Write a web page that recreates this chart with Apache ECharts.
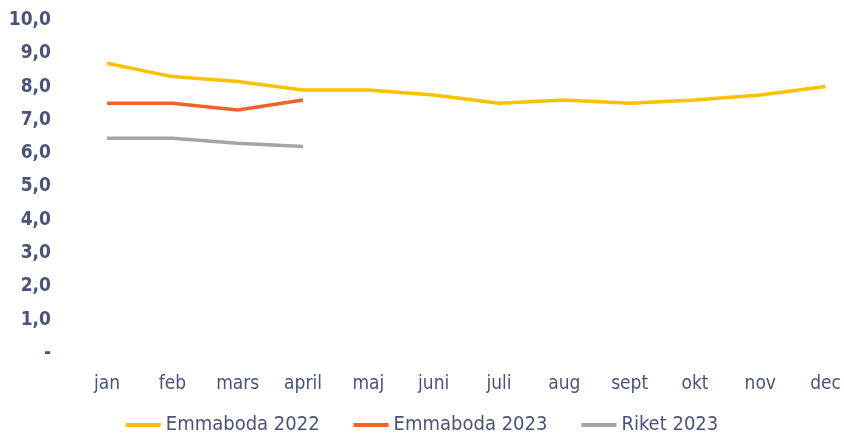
<!DOCTYPE html>
<html>
<head>
<meta charset="utf-8">
<script src="https://cdn.jsdelivr.net/npm/echarts@6/dist/echarts.min.js"></script>
<style>
  html, body { margin: 0; padding: 0; background: #fff; }
  #chart { width: 844px; height: 441px; }
</style>
</head>
<body>
<div id="chart"></div>
<script>
// data
let months = ['jan', 'feb', 'mars', 'april', 'maj', 'juni', 'juli', 'aug', 'sept', 'okt', 'nov', 'dec']
let emmaboda2022 = [8.7, 8.3, 8.15, 7.9, 7.9, 7.75, 7.5, 7.6, 7.5, 7.6, 7.75, 8.0]
let emmaboda2023 = [7.5, 7.5, 7.3, 7.6]
let riket2023 = [6.45, 6.45, 6.3, 6.2]

let textColor = '#4b5378'
let font = '"Liberation Sans Narrow", "DejaVu Sans Condensed", sans-serif'

let chart = echarts.init(document.getElementById('chart'))
let option = {
    animation: false,
    textStyle: { fontFamily: font },
    grid: { left: 107, right: 18, top: 20, bottom: 88 },
    legend: {
        bottom: 1,
        left: 'center',
        icon: 'rect',
        itemWidth: 35,
        itemHeight: 4,
        itemGap: 34,
        itemTextGap: 3,
        textStyle: { color: textColor, fontSize: 20, fontFamily: font },
        data: ['Emmaboda 2022', 'Emmaboda 2023', 'Riket 2023']
    },
    xAxis: {
        type: 'category',
        data: months,
        boundaryGap: false,
        axisLine: { show: false },
        axisTick: { show: false },
        axisLabel: { color: textColor, fontSize: 19, margin: 22, fontFamily: font }
    },
    yAxis: {
        type: 'value',
        min: 0,
        max: 10,
        interval: 1,
        splitLine: { show: false },
        axisLabel: {
            color: textColor,
            fontSize: 19,
            fontWeight: 'bold',
            margin: 56,
            fontFamily: font,
            formatter: v => v === 0 ? '-' : v.toFixed(1).replace('.', ',')
        }
    },
    series: [
        {
            name: 'Emmaboda 2022',
            type: 'line',
            data: emmaboda2022,
            symbol: 'none',
            lineStyle: { width: 3.5, color: '#ffc000' },
            itemStyle: { color: '#ffc000' }
        },
        {
            name: 'Emmaboda 2023',
            type: 'line',
            data: emmaboda2023,
            symbol: 'none',
            lineStyle: { width: 3.5, color: '#f4622a' },
            itemStyle: { color: '#f4622a' }
        },
        {
            name: 'Riket 2023',
            type: 'line',
            data: riket2023,
            symbol: 'none',
            lineStyle: { width: 3.5, color: '#a5a5a5' },
            itemStyle: { color: '#a5a5a5' }
        }
    ]
}
chart.setOption(option)
</script>
</body>
</html>
